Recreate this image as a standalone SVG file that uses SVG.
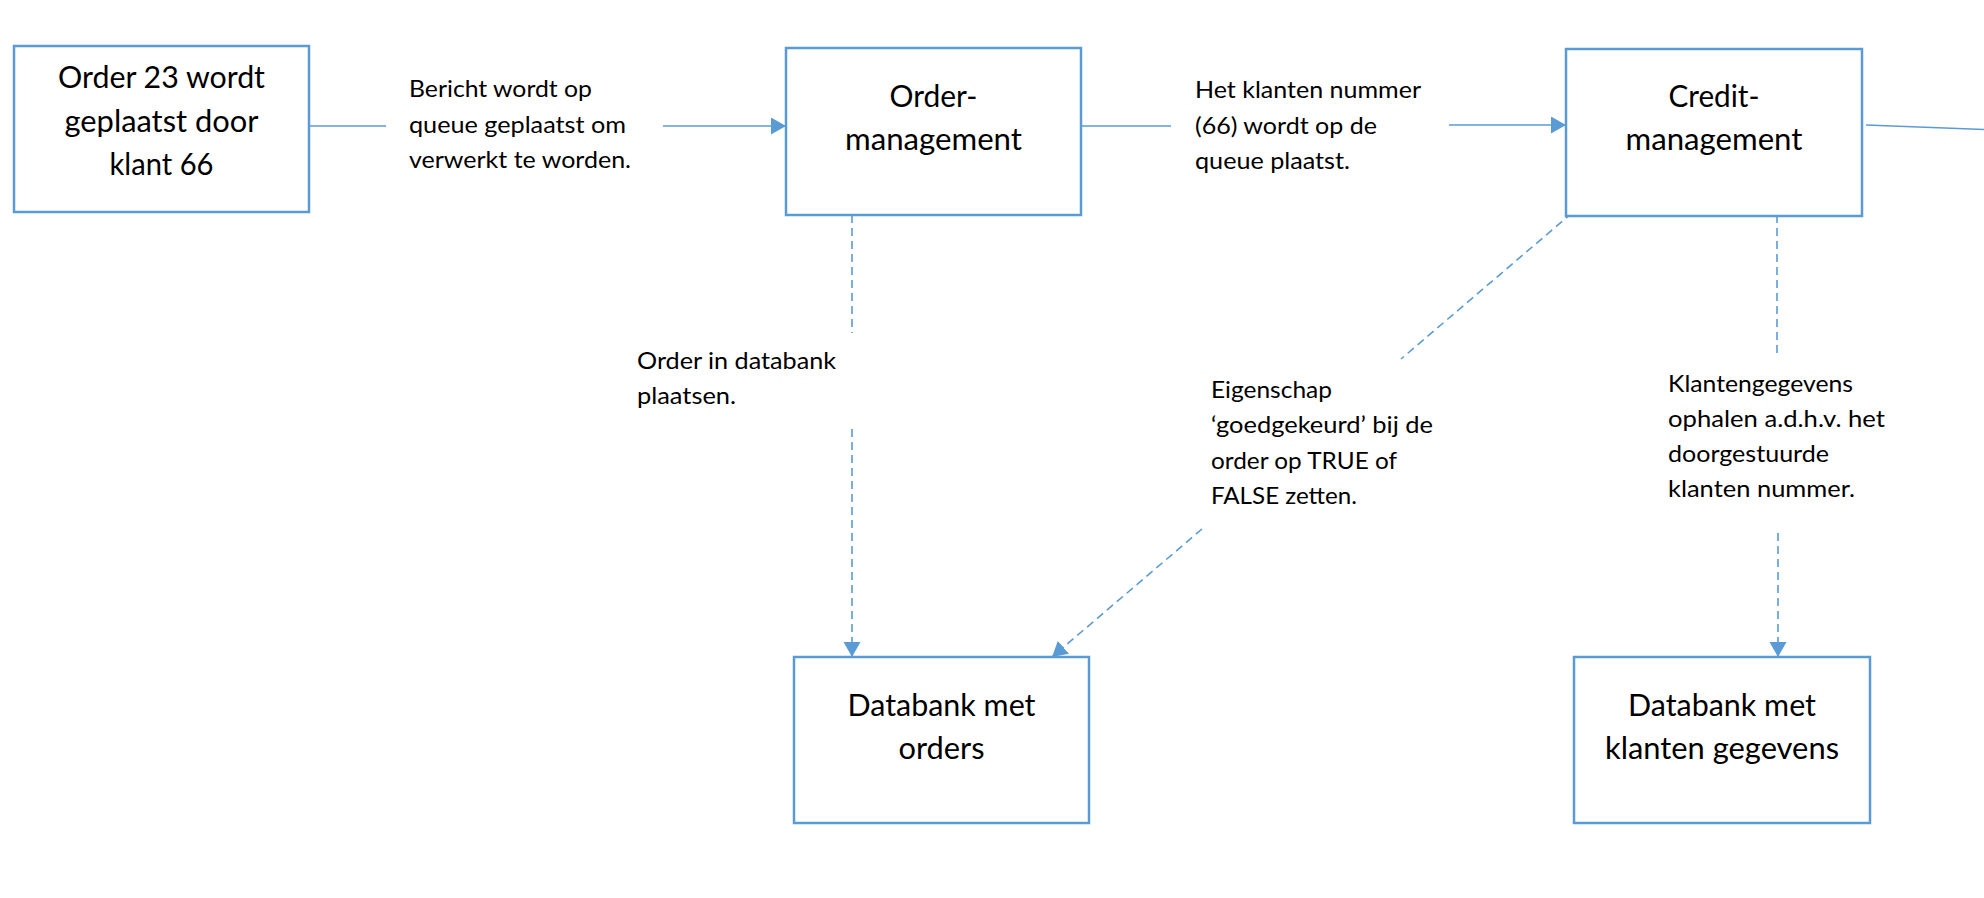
<svg xmlns="http://www.w3.org/2000/svg" width="1984" height="898" viewBox="0 0 1984 898">
<style>
  .box { fill: #ffffff; stroke: #5B9BD5; stroke-width: 2.5; }
  .bt { font-family: Lato, "Liberation Sans", sans-serif; font-size: 30px; fill: #000000; text-anchor: middle; }
  .lt { font-family: Lato, "Liberation Sans", sans-serif; font-size: 24px; fill: #000000; }
  .conn { fill: none; stroke: #5B9BD5; stroke-width: 1.6; }
  .dash { stroke-dasharray: 8 5; }
</style>
<defs>
  <marker id="arrow" markerUnits="userSpaceOnUse" markerWidth="16" markerHeight="18" refX="15" refY="8.5" orient="auto">
    <path d="M0,0 L15,8.5 L0,17 Z" fill="#5B9BD5"/>
  </marker>
</defs>
<rect width="1984" height="898" fill="#ffffff"/>

<g id="connectors">
  <path class="conn" d="M310,126 L386,126 M663,126 L786,126" marker-end="url(#arrow)"/>
  <path class="conn" d="M1081,126 L1171,126 M1449,125 L1566,125" marker-end="url(#arrow)"/>
  <path class="conn" d="M1866,125 L1984,129.5"/>
  <path class="conn dash" d="M852,215 L852,333 M852,429 L852,657" marker-end="url(#arrow)"/>
  <path class="conn dash" d="M1572,213 L1401,359 M1202,529 L1052,657" marker-end="url(#arrow)"/>
  <path class="conn dash" d="M1777,215 L1777,353 M1778,533 L1778,657" marker-end="url(#arrow)"/>
</g>

<g id="connector-labels">
  <g id="label-bericht">
    <text class="lt" x="409" y="97" textLength="183" lengthAdjust="spacingAndGlyphs">Bericht wordt op</text>
    <text class="lt" x="409" y="133" textLength="217" lengthAdjust="spacingAndGlyphs">queue geplaatst om</text>
    <text class="lt" x="409" y="168" textLength="222" lengthAdjust="spacingAndGlyphs">verwerkt te worden.</text>
  </g>
  <g id="label-klantnummer">
    <text class="lt" x="1195" y="98" textLength="226" lengthAdjust="spacingAndGlyphs">Het klanten nummer</text>
    <text class="lt" x="1195" y="134" textLength="182" lengthAdjust="spacingAndGlyphs">(66) wordt op de</text>
    <text class="lt" x="1195" y="169" textLength="155" lengthAdjust="spacingAndGlyphs">queue plaatst.</text>
  </g>
  <g id="label-order-db">
    <text class="lt" x="637" y="369" textLength="199" lengthAdjust="spacingAndGlyphs">Order in databank</text>
    <text class="lt" x="637" y="404" textLength="99" lengthAdjust="spacingAndGlyphs">plaatsen.</text>
  </g>
  <g id="label-eigenschap">
    <text class="lt" x="1211" y="398" textLength="121" lengthAdjust="spacingAndGlyphs">Eigenschap</text>
    <text class="lt" x="1211" y="433" textLength="222" lengthAdjust="spacingAndGlyphs">‘goedgekeurd’ bij de</text>
    <text class="lt" x="1211" y="469" textLength="186" lengthAdjust="spacingAndGlyphs">order op TRUE of</text>
    <text class="lt" x="1211" y="504" textLength="146" lengthAdjust="spacingAndGlyphs">FALSE zetten.</text>
  </g>
  <g id="label-klantengegevens">
    <text class="lt" x="1668" y="392" textLength="185" lengthAdjust="spacingAndGlyphs">Klantengegevens</text>
    <text class="lt" x="1668" y="427" textLength="217" lengthAdjust="spacingAndGlyphs">ophalen a.d.h.v. het</text>
    <text class="lt" x="1668" y="462" textLength="161" lengthAdjust="spacingAndGlyphs">doorgestuurde</text>
    <text class="lt" x="1668" y="497" textLength="187" lengthAdjust="spacingAndGlyphs">klanten nummer.</text>
  </g>
</g>

<g id="node-order23">
  <rect class="box" x="14" y="46" width="295" height="166"/>
  <text class="bt" x="161.5" y="88" textLength="207" lengthAdjust="spacingAndGlyphs">Order 23 wordt</text>
  <text class="bt" x="161.5" y="132" textLength="194" lengthAdjust="spacingAndGlyphs">geplaatst door</text>
  <text class="bt" x="161.5" y="175" textLength="104" lengthAdjust="spacingAndGlyphs">klant 66</text>
</g>

<g id="node-ordermanagement">
  <rect class="box" x="786" y="48" width="295" height="167"/>
  <text class="bt" x="933.5" y="107" textLength="88" lengthAdjust="spacingAndGlyphs">Order-</text>
  <text class="bt" x="933.5" y="150" textLength="177" lengthAdjust="spacingAndGlyphs">management</text>
</g>

<g id="node-creditmanagement">
  <rect class="box" x="1566" y="49" width="296" height="167"/>
  <text class="bt" x="1714" y="107" textLength="91" lengthAdjust="spacingAndGlyphs">Credit-</text>
  <text class="bt" x="1714" y="150" textLength="177" lengthAdjust="spacingAndGlyphs">management</text>
</g>

<g id="node-db-orders">
  <rect class="box" x="794" y="657" width="295" height="166"/>
  <text class="bt" x="941.5" y="716" textLength="188" lengthAdjust="spacingAndGlyphs">Databank met</text>
  <text class="bt" x="941.5" y="759" textLength="86" lengthAdjust="spacingAndGlyphs">orders</text>
</g>

<g id="node-db-klanten">
  <rect class="box" x="1574" y="657" width="296" height="166"/>
  <text class="bt" x="1722" y="716" textLength="188" lengthAdjust="spacingAndGlyphs">Databank met</text>
  <text class="bt" x="1722" y="759" textLength="234" lengthAdjust="spacingAndGlyphs">klanten gegevens</text>
</g>
</svg>
